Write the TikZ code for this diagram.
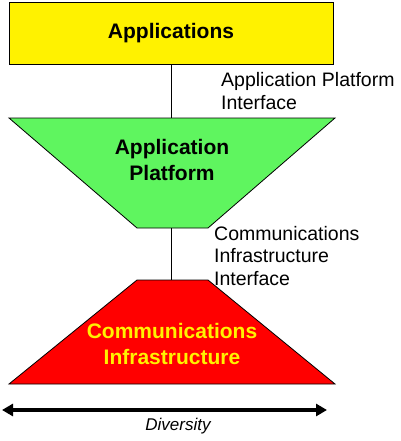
\documentclass[tikz,border=0pt]{standalone}
\usepackage{xcolor}
\usepackage{fontspec}
\setmainfont{Liberation Sans}
\usepackage{tikz}
\usetikzlibrary{arrows.meta}

\begin{document}
\begin{tikzpicture}[x=1pt,y=-1pt]

        \useasboundingbox (0,0) rectangle (400,441);

        \definecolor{platgreen}{RGB}{95,245,95}
        \tikzstyle{layertext}=[font=\fontsize{21}{25.5}\selectfont\bfseries,align=center,inner sep=0pt]
        \tikzstyle{ifacetext}=[font=\fontsize{19.5}{22.5}\selectfont,align=left,anchor=west,inner sep=0pt]
        \tikzstyle{layeredge}=[draw=black,line width=0.8pt]

        %% Applications box
        \node [layeredge,fill=yellow,minimum width=324pt,minimum height=62pt,inner sep=0pt] (apps) at (171,33) {};
        \node [layertext] (appstext) at (apps.center) {Applications};

        %% Application platform (upside down trapezium)
        \coordinate (platTop) at (171,118);
        \coordinate (platBot) at (171,228);
        \draw [layeredge,fill=platgreen] (9,118) -- (335,118) -- (208,228) -- (137,228) -- cycle;
        \node [layertext] (plat) at (172,160) {Application\\Platform};

        %% Communications infrastructure (trapezium)
        \coordinate (infraTop) at (171,280);
        \draw [layeredge,fill=red] (137,280) -- (208,280) -- (335,384) -- (9,384) -- cycle;
        \node [layertext,text=yellow] (infra) at (172,344) {Communications\\Infrastructure};

        %% interfaces
        \draw [line width=1pt] (apps.south) -- (platTop);
        \draw [line width=1pt] (platBot) -- (infraTop);
        \node [ifacetext] (api) at (221,91) {Application Platform\\Interface};
        \node [ifacetext] (cii) at (214,256) {Communications\\Infrastructure\\Interface};

        %% diversity arrow
        \coordinate (divL) at (2,410);
        \coordinate (divR) at (327,410);
        \draw [line width=4.5pt,{Triangle[length=11pt,width=12pt]}-{Triangle[length=11pt,width=12pt]}] (divL) -- (divR);
        \node [font=\fontsize{17}{20}\selectfont\itshape] (div) at (178,426) {Diversity};

\end{tikzpicture}
\end{document}
